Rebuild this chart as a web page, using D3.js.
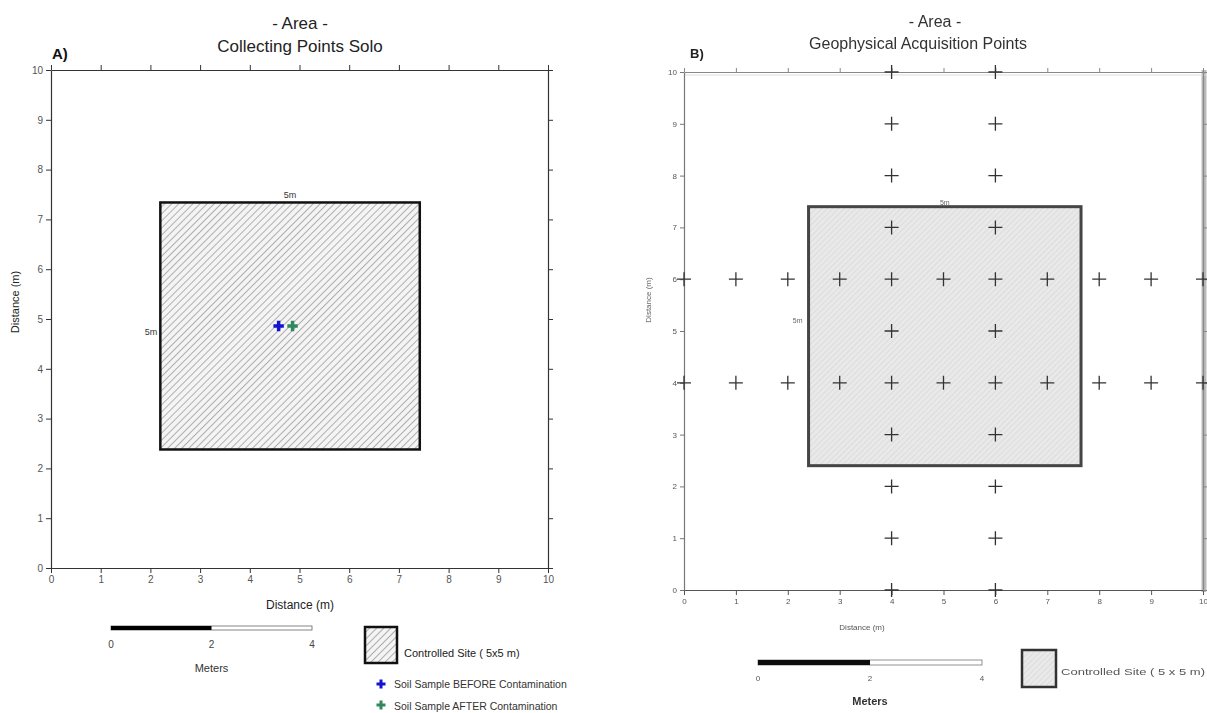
<!DOCTYPE html>
<html>
<head>
<meta charset="utf-8">
<script src="https://cdn.jsdelivr.net/npm/d3@7"></script>
<style>
  body { margin: 0; background: #fff; }
  text { font-family: "Liberation Sans", Arial, sans-serif; }
</style>
</head>
<body>
<div id="chart"></div>
<script>
// ---- data ----
var axisTicks = [0, 1, 2, 3, 4, 5, 6, 7, 8, 9, 10];
var scaleBarTicks = [0, 2, 4];

// panel A: controlled site corners (m) and soil samples
var siteA = { x0: 2.2, x1: 7.42, y0: 2.38, y1: 7.34 };
var samplesBefore = [[4.58, 4.86]];
var samplesAfter = [[4.86, 4.86]];

// panel B: controlled site and geophysical acquisition points
var siteB = { x0: 2.4, x1: 7.65, y0: 2.4, y1: 7.4 };
var geoPoints = [
  [0, 4], [1, 4], [2, 4], [3, 4], [4, 4], [5, 4], [6, 4], [7, 4], [8, 4], [9, 4], [10, 4],
  [0, 6], [1, 6], [2, 6], [3, 6], [4, 6], [5, 6], [6, 6], [7, 6], [8, 6], [9, 6], [10, 6],
  [4, 0], [4, 1], [4, 2], [4, 3], [4, 5], [4, 7], [4, 8], [4, 9], [4, 10],
  [6, 0], [6, 1], [6, 2], [6, 3], [6, 5], [6, 7], [6, 8], [6, 9], [6, 10]
];

var svg = d3.select("#chart").append("svg")
    .attr("width", 1207)
    .attr("height", 713);

var defs = svg.append("defs");

// hatch for panel A
var hatchA = defs.append("pattern")
    .attr("id", "hatchA")
    .attr("patternUnits", "userSpaceOnUse")
    .attr("width", 5).attr("height", 5)
    .attr("patternTransform", "rotate(45)");
hatchA.append("rect").attr("width", 5).attr("height", 5).attr("fill", "#f4f4f4");
hatchA.append("line").attr("x1", 0).attr("y1", 0).attr("x2", 0).attr("y2", 5)
    .attr("stroke", "#8a8a8a").attr("stroke-width", 1.3);

// finer, lighter hatch for panel B
var hatchB = defs.append("pattern")
    .attr("id", "hatchB")
    .attr("patternUnits", "userSpaceOnUse")
    .attr("width", 4).attr("height", 4)
    .attr("patternTransform", "rotate(45)");
hatchB.append("rect").attr("width", 4).attr("height", 4).attr("fill", "#e9e9e9");
hatchB.append("line").attr("x1", 0).attr("y1", 0).attr("x2", 0).attr("y2", 4)
    .attr("stroke", "#cfcfcf").attr("stroke-width", 1);

defs.append("filter").attr("id", "soft")
  .append("feGaussianBlur").attr("stdDeviation", 0.45);

// ================= Panel A =================
var xA = d3.scaleLinear().domain([0, 10]).range([51, 548]);
var yA = d3.scaleLinear().domain([0, 10]).range([568, 70]);

var gA = svg.append("g");

gA.append("text").attr("x", 300).attr("y", 29).attr("text-anchor", "middle")
    .style("font-size", "17px").attr("fill", "#222").text("- Area -");
gA.append("text").attr("x", 300).attr("y", 52).attr("text-anchor", "middle")
    .style("font-size", "17px").attr("fill", "#222").text("Collecting Points Solo");
gA.append("text").attr("x", 52).attr("y", 59)
    .style("font-size", "15px").style("font-weight", "bold").attr("fill", "#111").text("A)");

// site square
gA.append("rect")
    .attr("x", xA(siteA.x0)).attr("y", yA(siteA.y1))
    .attr("width", xA(siteA.x1) - xA(siteA.x0))
    .attr("height", yA(siteA.y0) - yA(siteA.y1))
    .attr("fill", "url(#hatchA)")
    .attr("stroke", "#111").attr("stroke-width", 2.5);
gA.append("text").attr("x", (xA(siteA.x0) + xA(siteA.x1)) / 2).attr("y", yA(siteA.y1) - 4)
    .attr("text-anchor", "middle").style("font-size", "9px").attr("fill", "#333").text("5m");
gA.append("text").attr("x", xA(siteA.x0) - 3).attr("y", (yA(siteA.y0) + yA(siteA.y1)) / 2 + 9)
    .attr("text-anchor", "end").style("font-size", "9px").attr("fill", "#333").text("5m");

var plus = d3.symbol().type(d3.symbolCross).size(60);
gA.selectAll(".before").data(samplesBefore).enter().append("path")
    .attr("transform", function(d) { return "translate(" + xA(d[0]) + "," + yA(d[1]) + ")"; })
    .attr("d", plus).attr("fill", "#1414d0");
gA.selectAll(".after").data(samplesAfter).enter().append("path")
    .attr("transform", function(d) { return "translate(" + xA(d[0]) + "," + yA(d[1]) + ")"; })
    .attr("d", plus).attr("fill", "#2e8a5e");

// axes A
function styleAxis(g, color, size) {
  g.select(".domain").attr("stroke", color).attr("stroke-width", 1.2);
  g.selectAll(".tick line").attr("stroke", color);
  g.selectAll(".tick text").attr("fill", "#555").style("font-size", size)
      .style("font-family", "Liberation Sans, Arial, sans-serif");
}
gA.append("g").attr("transform", "translate(0,568)")
    .call(d3.axisBottom(xA).tickValues(axisTicks).tickSize(5).tickSizeOuter(0))
    .call(styleAxis, "#333", "10px");
gA.append("g").attr("transform", "translate(51,0)")
    .call(d3.axisLeft(yA).tickValues(axisTicks).tickSize(5).tickSizeOuter(0))
    .call(styleAxis, "#333", "10px");
gA.append("g").attr("transform", "translate(0,70)")
    .call(d3.axisTop(xA).tickValues(axisTicks).tickSize(5).tickSizeOuter(0).tickFormat(""))
    .call(styleAxis, "#333", "10px");
gA.append("g").attr("transform", "translate(548,0)")
    .call(d3.axisRight(yA).tickValues(axisTicks).tickSize(5).tickSizeOuter(0).tickFormat(""))
    .call(styleAxis, "#333", "10px");

gA.append("text").attr("x", 300).attr("y", 609).attr("text-anchor", "middle")
    .style("font-size", "12px").attr("fill", "#222").text("Distance (m)");
gA.append("text").attr("transform", "translate(19,302) rotate(-90)").attr("text-anchor", "middle")
    .style("font-size", "11px").attr("fill", "#222").text("Distance (m)");

// scale bar A
var sbA = d3.scaleLinear().domain([0, 4]).range([111, 312]);
gA.append("rect").attr("x", sbA(0)).attr("y", 626).attr("width", sbA(4) - sbA(0)).attr("height", 4)
    .attr("fill", "#fff").attr("stroke", "#666").attr("stroke-width", 0.8);
gA.append("rect").attr("x", sbA(0)).attr("y", 626).attr("width", sbA(2) - sbA(0)).attr("height", 4)
    .attr("fill", "#000");
gA.selectAll(".sbA").data(scaleBarTicks).enter().append("text")
    .attr("x", function(d) { return sbA(d); }).attr("y", 648).attr("text-anchor", "middle")
    .style("font-size", "10px").attr("fill", "#444").text(function(d) { return d; });
gA.append("text").attr("x", sbA(2)).attr("y", 672).attr("text-anchor", "middle")
    .style("font-size", "11px").attr("fill", "#333").text("Meters");

// legend A
gA.append("rect").attr("x", 365).attr("y", 627).attr("width", 32).attr("height", 36)
    .attr("fill", "url(#hatchA)").attr("stroke", "#111").attr("stroke-width", 2.5);
gA.append("text").attr("x", 404).attr("y", 657).style("font-size", "11px").attr("fill", "#222")
    .text("Controlled Site ( 5x5 m)");
gA.append("path").attr("transform", "translate(381,684)").attr("d", d3.symbol().type(d3.symbolCross).size(45))
    .attr("fill", "#1414d0");
gA.append("text").attr("x", 394).attr("y", 688).style("font-size", "10.5px").attr("fill", "#333")
    .text("Soil Sample BEFORE Contamination");
gA.append("path").attr("transform", "translate(381,705)").attr("d", d3.symbol().type(d3.symbolCross).size(45))
    .attr("fill", "#2e8a5e");
gA.append("text").attr("x", 394).attr("y", 710).style("font-size", "10.5px").attr("fill", "#333")
    .text("Soil Sample AFTER Contamination");

// ================= Panel B =================
var xB = d3.scaleLinear().domain([0, 10]).range([684, 1203]);
var yB = d3.scaleLinear().domain([0, 10]).range([590, 72]);

var gB = svg.append("g").attr("filter", "url(#soft)");

gB.append("text").attr("x", 935).attr("y", 27).attr("text-anchor", "middle")
    .style("font-size", "16px").attr("fill", "#333").text("- Area -");
gB.append("text").attr("x", 918).attr("y", 49).attr("text-anchor", "middle")
    .style("font-size", "16px").attr("fill", "#333").text("Geophysical Acquisition Points");
gB.append("text").attr("x", 690).attr("y", 58)
    .style("font-size", "13px").style("font-weight", "bold").attr("fill", "#222").text("B)");

// right frame edge (cut off at page edge)
gB.append("line").attr("x1", 1204).attr("x2", 1204).attr("y1", 70).attr("y2", 592)
    .attr("stroke", "#bbb").attr("stroke-width", 5);
gB.append("line").attr("x1", 684).attr("x2", 1207).attr("y1", 75).attr("y2", 75)
    .attr("stroke", "#ddd").attr("stroke-width", 1);

gB.append("rect")
    .attr("x", xB(siteB.x0)).attr("y", yB(siteB.y1))
    .attr("width", xB(siteB.x1) - xB(siteB.x0))
    .attr("height", yB(siteB.y0) - yB(siteB.y1))
    .attr("fill", "url(#hatchB)")
    .attr("stroke", "#444").attr("stroke-width", 3);
gB.append("text").attr("x", (xB(siteB.x0) + xB(siteB.x1)) / 2).attr("y", yB(siteB.y1) - 2)
    .attr("text-anchor", "middle").style("font-size", "7px").attr("fill", "#666").text("5m");
gB.append("text").attr("x", xB(siteB.x0) - 6).attr("y", yB(5) - 8)
    .attr("text-anchor", "end").style("font-size", "7px").attr("fill", "#666").text("5m");

// axes B
gB.append("g").attr("transform", "translate(0,590)")
    .call(d3.axisBottom(xB).tickValues(axisTicks).tickSize(5).tickSizeOuter(0))
    .call(styleAxis, "#555", "8px");
gB.append("g").attr("transform", "translate(684,0)")
    .call(d3.axisLeft(yB).tickValues(axisTicks).tickSize(4).tickSizeOuter(0))
    .call(styleAxis, "#777", "8px");
gB.append("g").attr("transform", "translate(0,72)")
    .call(d3.axisTop(xB).tickValues(axisTicks).tickSize(4).tickSizeOuter(0).tickFormat(""))
    .call(styleAxis, "#888", "8px");
gB.append("g").attr("transform", "translate(1203,0)")
    .call(d3.axisRight(yB).tickValues(axisTicks).tickSize(4).tickSizeOuter(0).tickFormat(""))
    .call(styleAxis, "#888", "8px");

// acquisition points
gB.selectAll(".geo").data(geoPoints).enter().append("path")
    .attr("d", function(d) {
      var cx = xB(d[0]), cy = yB(d[1]);
      return "M" + (cx - 7) + "," + cy + "H" + (cx + 7) + "M" + cx + "," + (cy - 7) + "V" + (cy + 7);
    })
    .attr("stroke", "#333").attr("stroke-width", 1.3).attr("fill", "none");

gB.append("text").attr("x", 862).attr("y", 630).attr("text-anchor", "middle")
    .style("font-size", "8px").attr("fill", "#555").text("Distance (m)");
gB.append("text").attr("transform", "translate(651,300) rotate(-90)").attr("text-anchor", "middle")
    .style("font-size", "8px").attr("fill", "#666").text("Distance (m)");

// scale bar B
var sbB = d3.scaleLinear().domain([0, 4]).range([758, 982]);
gB.append("rect").attr("x", sbB(0)).attr("y", 660).attr("width", sbB(4) - sbB(0)).attr("height", 5)
    .attr("fill", "#fff").attr("stroke", "#777").attr("stroke-width", 0.8);
gB.append("rect").attr("x", sbB(0)).attr("y", 660).attr("width", sbB(2) - sbB(0)).attr("height", 5)
    .attr("fill", "#111");
gB.selectAll(".sbB").data(scaleBarTicks).enter().append("text")
    .attr("x", function(d) { return sbB(d); }).attr("y", 681).attr("text-anchor", "middle")
    .style("font-size", "8px").attr("fill", "#555").text(function(d) { return d; });
gB.append("text").attr("x", sbB(2)).attr("y", 705).attr("text-anchor", "middle")
    .style("font-size", "11px").style("font-weight", "bold").attr("fill", "#333").text("Meters");

// legend B
gB.append("rect").attr("x", 1022).attr("y", 650).attr("width", 34).attr("height", 37)
    .attr("fill", "url(#hatchB)").attr("stroke", "#333").attr("stroke-width", 2.5);
gB.append("text").attr("x", 1061).attr("y", 675).style("font-size", "9px").attr("fill", "#555")
    .attr("textLength", 144).attr("lengthAdjust", "spacingAndGlyphs")
    .text("Controlled Site ( 5 x 5 m)");
</script>
</body>
</html>
